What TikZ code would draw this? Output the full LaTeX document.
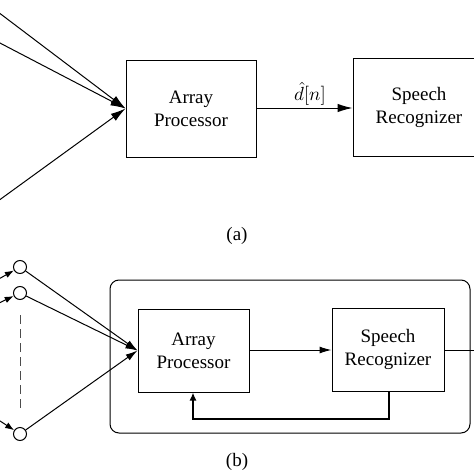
\documentclass[tikz,border=0pt]{standalone}
\usepackage{fontspec}
\setmainfont{Liberation Serif}
\usetikzlibrary{arrows.meta}
\begin{document}
\begin{tikzpicture}[x=1pt,y=-1pt,
  lbl/.style={font=\fontsize{19}{23}\selectfont},
  blk/.style={draw,line width=1pt,align=center,inner sep=0pt,lbl},
  mic/.style={draw,circle,line width=1pt,minimum size=13pt,inner sep=0pt},
  conn/.style={line width=1pt},
  bigtip/.style={-{Latex[length=15pt,width=8.5pt]}},
  midtip/.style={-{Latex[length=12pt,width=7pt]}},
  smalltip/.style={-{Latex[length=9pt,width=6.5pt]}},
  fb/.style={line width=2.2pt}
]
\clip (0,0) rectangle (474,474);
\fill[white] (0,0) rectangle (474,474);
% ---------- (a)
\node[blk,minimum width=130pt,minimum height=97pt] (ap) at (191,108.5) {Array\\Processor};
\node[blk,minimum width=132pt,minimum height=98pt] (sr) at (419,107) {Speech\\Recognizer};
\coordinate (ia1) at (-2,12);
\coordinate (ia2) at (-2,42);
\coordinate (ia3) at (-2,201);
\draw[conn,bigtip] (ia1) -- (ap.west);
\draw[conn,bigtip] (ia2) -- (ap.west);
\draw[conn,bigtip] (ia3) -- (ap.west);
\draw[conn,bigtip] (ap.east |- 0,108) -- (sr.west |- 0,108);
\node[inner sep=0pt] (dn) at (310,94) {\scalebox{1.9}{$\hat{d}[n]$}};
\node[lbl] (la) at (237,236) {(a)};
% ---------- (b)
\node[draw,line width=1pt,rounded corners=9pt,minimum width=360pt,minimum height=153pt] (outer) at (290,356.5) {};
\node[blk,minimum width=111pt,minimum height=83pt] (apb) at (193.5,350.5) {Array\\Processor};
\node[blk,minimum width=112pt,minimum height=83pt] (srb) at (388,349.5) {Speech\\Recognizer};
\node[mic] (m1) at (20,267) {};
\node[mic] (m2) at (20,293) {};
\node[mic] (m3) at (20,434) {};
\coordinate (s1) at (-3,280);
\coordinate (s2) at (-3,304);
\coordinate (s3) at (-3,419);
\draw[conn,smalltip] (s1) -- (m1);
\draw[conn,smalltip] (s2) -- (m2);
\draw[conn,smalltip] (s3) -- (m3);
\draw[conn,dashed,dash pattern=on 9pt off 5pt,gray!60!black] (20,315) -- (20,411);
\draw[conn,midtip] (m1) -- (apb.west);
\draw[conn,midtip] (m2) -- (apb.west);
\draw[conn,midtip] (m3) -- (apb.west);
\draw[conn,midtip] (apb.east |- 0,350) -- (srb.west |- 0,350);
\coordinate (outb) at (480,350);
\draw[conn] (srb.east |- 0,350) -- (outb);
\draw[fb,-{Latex[length=8pt,width=7pt]}] (srb.south -| 389,0) -- (389,419) -- (193,419) -- (apb.south -| 193,0);
\node[lbl] (lb) at (237,462) {(b)};
\end{tikzpicture}
\end{document}
